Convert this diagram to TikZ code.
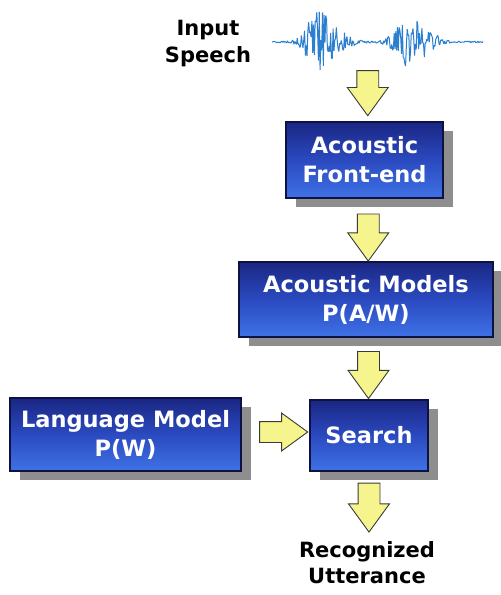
\documentclass[tikz,border=0pt]{standalone}
\usepackage{fontspec}
\setmainfont{DejaVu Sans}
\usetikzlibrary{shapes.arrows,shadows,calc}
\definecolor{boxtop}{HTML}{1A2683}
\definecolor{boxmid}{HTML}{2B4AC0}
\definecolor{boxbot}{HTML}{3F72E6}
\definecolor{boxedge}{HTML}{0E1240}
\definecolor{shadowgray}{HTML}{8E8E8E}
\definecolor{arrowfill}{HTML}{F6F48C}
\definecolor{arrowedge}{HTML}{3A3A3A}
\definecolor{wave}{HTML}{2A7FD0}
\tikzset{
  bluebox/.style={rectangle, draw=boxedge, line width=1.4pt,
    top color=boxtop, bottom color=boxbot, middle color=boxmid,
    text=white, align=center, inner sep=0pt,
    font=\fontsize{22.5}{29}\selectfont\bfseries,
    drop shadow={shadow xshift=10pt, shadow yshift=-9pt, fill=shadowgray, opacity=1}},
  blockarrow/.style={single arrow, draw=arrowedge, fill=arrowfill, line width=0.9pt,
    inner xsep=0pt, inner ysep=10.5pt, single arrow head extend=9.5pt,
    single arrow tip angle=72, single arrow head indent=0pt},
  downarrow/.style={blockarrow, rotate=-90, minimum height=#1},
  rightarrow/.style={blockarrow, inner ysep=10pt, single arrow head extend=8.5pt, minimum height=#1},
  label/.style={text=black, align=center, font=\fontsize{21}{27}\selectfont\bfseries}
}
\begin{document}
\begin{tikzpicture}[x=1pt,y=-1pt]
\useasboundingbox[fill=white] (0,0) rectangle (501,595);

% input speech label
\node[label] (input) at (208,44) {Input\\Speech};

% waveform
\pgfmathsetseed{11}
\draw[wave, line width=1pt, line join=bevel]
  plot[domain=272:483, samples=260]
  (\x, {42 + (0.8 + 31*exp(-((\x-318)/15)^2) + 28*exp(-((\x-408)/15)^2) + 8*exp(-((\x-340)/14)^2) + 8*exp(-((\x-430)/12)^2))*rand});
\coordinate (waveend) at (367,68);

% boxes
\node[bluebox, minimum width=157pt, minimum height=76pt] (fe) at (364.5,160) {Acoustic\\Front-end};
\node[bluebox, minimum width=254pt, minimum height=75pt] (am) at (366,299.5) {Acoustic Models\\P(A/W)};
\node[bluebox, minimum width=231pt, minimum height=73pt] (lm) at (125.5,434.5) {Language Model\\P(W)};
\node[bluebox, minimum width=118pt, minimum height=71pt] (search) at (369,435.5) {Search};

% output label
\node[label, font=\fontsize{21}{26}\selectfont\bfseries] (out) at (367,563) {Recognized\\Utterance};

% block arrows between nodes
\node[downarrow=45pt] (a1) at ($(waveend)!0.5!(fe.north)+(2,-9)$) {};
\node[downarrow=47pt] (a2) at ($(fe.south)!0.5!(am.north)+(3,0)$) {};
\node[downarrow=47pt] (a3) at ($(am.south)!0.5!(search.north)+(1,-1)$) {};
\node[rightarrow=48pt] (a4) at ($(lm.east)!0.5!(search.west)+(1,-3)$) {};
\node[downarrow=49pt] (a5) at ($(search.south)!0.5!(out.north)+(1,-5)$) {};
\end{tikzpicture}
\end{document}
